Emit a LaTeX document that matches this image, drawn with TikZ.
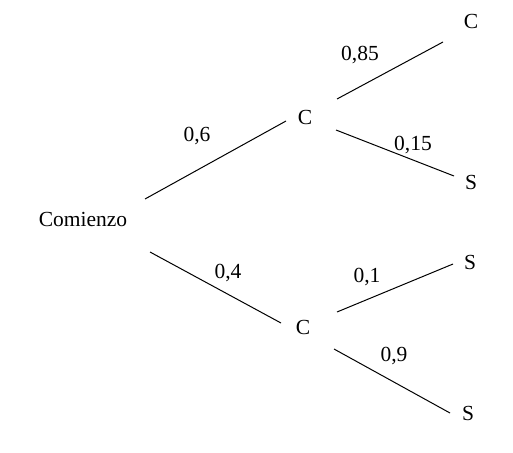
\documentclass[tikz,border=0pt]{standalone}
\usepackage{fontspec}
\setmainfont{Liberation Serif}
\begin{document}
\begin{tikzpicture}[x=1pt,y=-1pt,
  lbl/.style={anchor=base,inner sep=0pt,font=\fontsize{21.5}{26}\selectfont},
  branch/.style={line width=1pt,black}]
\useasboundingbox[fill=white] (0,0) rectangle (513,452);

% states of the tree
\node[lbl] (com) at (83,226) {Comienzo};
\node[lbl] (c1)  at (305,124) {C};
\node[lbl] (c2)  at (303,334) {C};
\node[lbl] (cc)  at (471,29)  {C};
\node[lbl] (cs)  at (471,189) {S};
\node[lbl] (ss1) at (470,269) {S};
\node[lbl] (ss2) at (468,420) {S};

% probabilities on the branches
\node[lbl] (p06)  at (197,141) {0,6};
\node[lbl] (p04)  at (228,278) {0,4};
\node[lbl] (p085) at (360,60)  {0,85};
\node[lbl] (p015) at (413,150) {0,15};
\node[lbl] (p01)  at (367,282) {0,1};
\node[lbl] (p09)  at (394,361) {0,9};

% branches
\draw[branch] ([shift={(62,-27)}]com.base) -- ([shift={(-19,-3)}]c1.base);
\draw[branch] ([shift={(67,26)}]com.base) -- ([shift={(-22,-11)}]c2.base);
\draw[branch] ([shift={(32,-25)}]c1.base) -- ([shift={(-28,13)}]cc.base);
\draw[branch] ([shift={(31,6)}]c1.base) -- ([shift={(-17,-13)}]cs.base);
\draw[branch] ([shift={(34,-22)}]c2.base) -- ([shift={(-17,-5)}]ss1.base);
\draw[branch] ([shift={(31,15)}]c2.base) -- ([shift={(-18,-7)}]ss2.base);
\end{tikzpicture}
\end{document}
